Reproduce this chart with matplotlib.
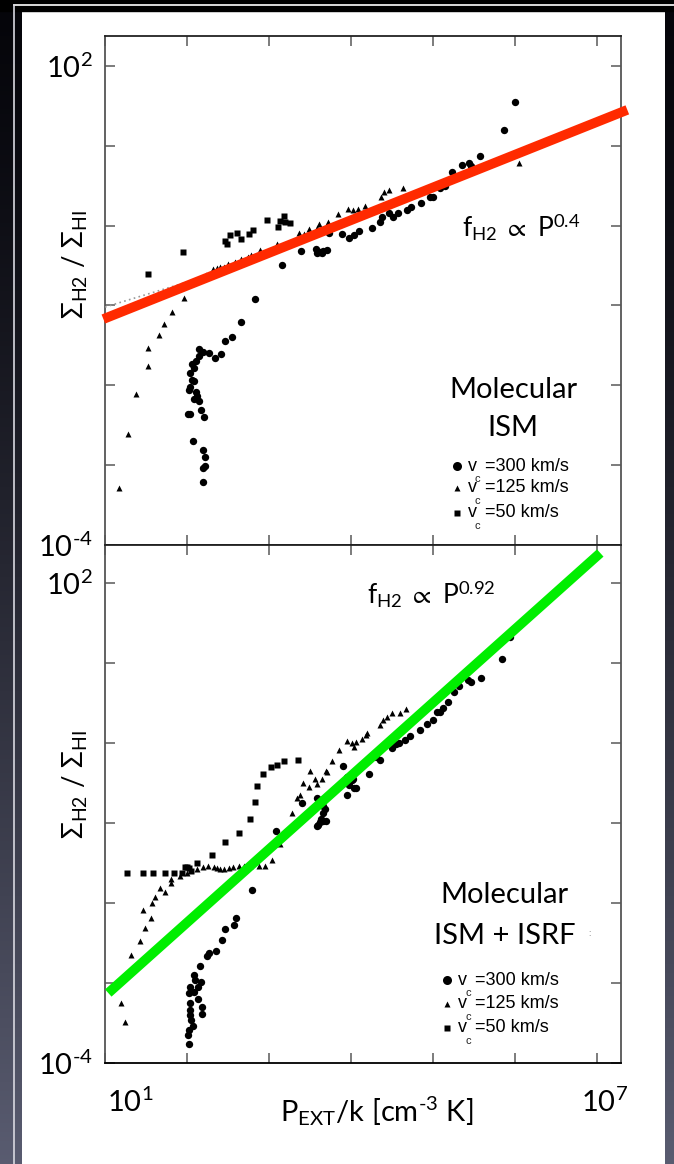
import numpy as np
import matplotlib
matplotlib.use("Agg")
import matplotlib.pyplot as plt
from matplotlib.ticker import NullLocator

plt.rcParams['font.family'] = ['Lato', 'DejaVu Sans']
plt.rcParams['mathtext.fontset'] = 'custom'
plt.rcParams['mathtext.rm'] = 'Lato'
plt.rcParams['mathtext.it'] = 'Lato:italic'
plt.rcParams['mathtext.bf'] = 'Lato:bold'
plt.rcParams['mathtext.sf'] = 'Lato'
plt.rcParams['mathtext.fallback'] = 'stixsans'

# ---- data (log10 P_ext/k , log10 Sigma_H2/Sigma_HI) ----
# top panel: molecular ISM only
top_vc300_logP = [2.20, 2.22, 2.20, 2.22, 2.20, 2.07, 2.21, 2.17, 2.01, 2.04, 2.15, 2.09, 2.12,
                  2.11, 2.02, 2.04, 2.09, 2.06, 2.04, 2.09, 2.06, 2.11, 2.15, 2.15, 2.20, 2.27,
                  2.34, 2.41, 2.46, 2.55, 2.66, 2.83, 3.16, 3.39, 3.57, 3.59, 3.62, 3.65, 3.66,
                  3.71, 3.73, 3.89, 3.98, 4.04, 4.10, 4.26, 4.35, 4.38, 4.46, 4.51, 4.57, 4.68,
                  4.73, 4.85, 4.96, 5.00, 5.09, 5.15, 5.23, 5.35, 5.44, 5.46, 5.57, 5.87, 6.00]
top_vc300_logR = [-3.21, -3.01, -3.03, -2.90, -2.81, -2.70, -2.40, -2.31, -2.36, -2.36, -2.20, -2.17, -2.14,
                  -2.09, -2.06, -2.02, -1.95, -1.93, -1.85, -1.78, -1.73, -1.70, -1.63, -1.55, -1.58, -1.60,
                  -1.66, -1.61, -1.45, -1.40, -1.21, -0.92, -0.49, -0.32, -0.29, -0.34, -0.33, -0.34, -0.32,
                  -0.31, -0.09, -0.11, -0.16, -0.12, -0.07, -0.03, 0.05, 0.11, 0.16, 0.11, 0.16, 0.20,
                  0.23, 0.28, 0.36, 0.36, 0.47, 0.50, 0.67, 0.76, 0.78, 0.75, 0.87, 1.20, 1.55]
top_vc125_logP = [1.17, 1.28, 1.38, 1.52, 1.52, 1.66, 1.72, 1.82, 1.96, 2.23, 2.32, 2.37, 2.40,
                  2.45, 2.50, 2.59, 2.66, 2.74, 2.78, 2.89, 3.10, 3.37, 3.43, 3.49, 3.59, 3.61,
                  3.72, 3.84, 3.96, 4.02, 4.09, 4.17, 4.37, 4.40, 4.46, 4.63, 6.05]
top_vc125_logR = [-3.28, -2.61, -2.11, -1.76, -1.53, -1.37, -1.23, -1.08, -0.91, -0.62, -0.54, -0.53, -0.52,
                  -0.52, -0.48, -0.46, -0.42, -0.39, -0.37, -0.31, -0.23, -0.09, -0.11, -0.04, -0.03, 0.02,
                  0.05, 0.15, 0.21, 0.20, 0.21, 0.25, 0.36, 0.42, 0.45, 0.47, 0.78]
top_vc50_logP = [1.52, 1.95, 2.46, 2.49, 2.52, 2.61, 2.66, 2.76, 2.80, 2.98, 3.11, 3.13, 3.18, 3.20, 3.26]
top_vc50_logR = [-0.61, -0.33, -0.19, -0.23, -0.12, -0.09, -0.17, -0.11, -0.06, 0.07, -0.02, 0.06, 0.12, 0.05, 0.03]

# bottom panel: molecular ISM + ISRF
bot_vc300_logP = [2.02, 2.01, 2.02, 2.07, 2.05, 2.04, 2.04, 2.04, 2.18, 2.18, 2.13, 2.02, 2.09,
                  2.04, 2.13, 2.10, 2.17, 2.09, 2.16, 2.24, 2.27, 2.35, 2.43, 2.46, 2.57, 2.60,
                  2.79, 3.09, 3.40, 3.59, 3.62, 3.66, 3.70, 3.60, 3.63, 3.66, 3.68, 3.66, 3.59,
                  3.90, 3.95, 3.98, 4.02, 4.04, 4.06, 3.95, 4.01, 4.22, 4.30, 4.35, 4.50, 4.55,
                  4.59, 4.66, 4.72, 4.84, 4.93, 5.00, 5.05, 5.09, 5.12, 5.18, 5.26, 5.32, 5.43,
                  5.46, 5.59, 5.84, 5.94]
bot_vc300_logR = [-3.76, -3.65, -3.59, -3.54, -3.46, -3.40, -3.34, -3.25, -3.39, -3.30, -3.20, -3.13, -3.11,
                  -3.05, -3.05, -2.96, -2.99, -2.90, -2.79, -2.66, -2.63, -2.60, -2.46, -2.33, -2.28, -2.19,
                  -1.84, -1.10, -0.75, -1.04, -0.99, -0.98, -0.98, -1.03, -0.95, -0.88, -0.83, -0.79, -0.69,
                  -0.29, -0.43, -0.53, -0.45, -0.56, -0.56, -0.65, -0.46, -0.39, -0.18, -0.21, -0.06, -0.01,
                  0.00, 0.04, 0.09, 0.16, 0.24, 0.29, 0.39, 0.39, 0.44, 0.51, 0.64, 0.71, 0.79,
                  0.76, 0.81, 1.05, 1.33]
bot_vc125_logP = [1.20, 1.24, 1.32, 1.43, 1.49, 1.46, 1.56, 1.57, 1.61, 1.67, 1.73, 1.80, 1.80,
                  1.91, 2.00, 2.12, 2.20, 2.26, 2.33, 2.37, 2.40, 2.45, 2.51, 2.56, 2.63, 2.70,
                  2.77, 2.88, 2.95, 3.04, 3.13, 3.28, 3.34, 3.38, 3.41, 3.49, 3.50, 3.56, 3.59,
                  3.65, 3.70, 3.71, 3.77, 3.85, 3.95, 4.01, 4.04, 4.06, 4.13, 4.18, 4.20, 4.35,
                  4.39, 4.44, 4.50, 4.60, 4.67]
bot_vc125_logR = [-3.25, -3.49, -2.65, -2.48, -2.31, -2.09, -2.19, -2.00, -1.93, -1.81, -1.86, -1.75, -1.70,
                  -1.66, -1.63, -1.58, -1.55, -1.54, -1.55, -1.56, -1.58, -1.58, -1.56, -1.55, -1.54, -1.54,
                  -1.54, -1.54, -1.54, -1.46, -1.26, -0.88, -0.69, -0.65, -0.50, -0.55, -0.35, -0.45, -0.51,
                  -0.45, -0.35, -0.36, -0.23, -0.09, 0.03, 0.00, -0.05, 0.01, 0.05, 0.10, 0.13, 0.23,
                  0.29, 0.33, 0.38, 0.38, 0.43]
bot_vc50_logP = [1.27, 1.46, 1.59, 1.73, 1.84, 1.94, 1.98, 2.00, 2.02, 2.05, 2.12, 2.30, 2.46,
                 2.63, 2.77, 2.83, 2.85, 2.93, 3.02, 3.10, 3.18, 3.35]
bot_vc50_logR = [-1.63, -1.63, -1.63, -1.63, -1.63, -1.63, -1.55, -1.55, -1.56, -1.60, -1.50, -1.40, -1.24,
                 -1.13, -0.95, -0.74, -0.54, -0.39, -0.30, -0.28, -0.23, -0.21]

# power-law fits (end points)
fit_top_logP = [0.98, 7.37]
fit_top_logR = [-1.17, 1.45]
fit_top_old_logP = [1.0, 2.6]
fit_top_old_logR = [-1.02, -0.52]
fit_bot_logP = [1.04, 7.04]
fit_bot_logR = [-3.125, 2.375]

legend_labels = ['=300 km/s', '=125 km/s', '=50 km/s']
ytick_labels = [r'$10^{\text{-}4}$', '', '', '', '', '', r'$10^{2}$']

# ---- figure & slide background ----
fig = plt.figure(figsize=(6.74, 11.64), dpi=100)
bg = fig.add_axes([0, 0, 1, 1], zorder=-10)
bg.set_xlim(0, 674)
bg.set_ylim(1164, 0)
bg.axis('off')
grad = np.linspace(0, 1, 256) ** 1.3
cols = np.zeros((256, 1, 3))
cols[:, 0, 0] = 0.02 + grad * 0.33
cols[:, 0, 1] = 0.02 + grad * 0.34
cols[:, 0, 2] = 0.04 + grad * 0.40
bg.imshow(cols, extent=(0, 22, 1164, 0), aspect='auto')
bg.imshow(cols, extent=(665, 674, 1164, 0), aspect='auto')
bg.fill_between([0, 674], 0, 11, color='black')
bg.plot([14, 674], [4.5, 4.5], color='white', lw=1.2)
bg.plot([14, 14], [4.5, 1164], color='#d8d8e0', lw=1.2)

ax1 = fig.add_axes([105 / 674, 1 - 545 / 1164, 516 / 674, 509 / 1164])
ax2 = fig.add_axes([105 / 674, 1 - 1063 / 1164, 516 / 674, 518 / 1164])


def P(a):
    return 10.0 ** np.asarray(a)


panels = [
    (ax1, top_vc300_logP, top_vc300_logR, top_vc125_logP, top_vc125_logR,
     top_vc50_logP, top_vc50_logR, 2.375),
    (ax2, bot_vc300_logP, bot_vc300_logR, bot_vc125_logP, bot_vc125_logR,
     bot_vc50_logP, bot_vc50_logR, 2.475),
]

for ax, x3, y3, x1, y1, x5, y5, ytop in panels:
    ax.set_xscale('log')
    ax.set_yscale('log')
    ax.set_xlim(10, 10 ** 7.293)
    ax.set_ylim(1e-4, 10 ** ytop)
    ax.plot(P(x3), P(y3), 'o', color='black', ms=5.3, mec='none')
    ax.plot(P(x1), P(y1), '^', color='black', ms=4.3, mec='none')
    ax.plot(P(x5), P(y5), 's', color='black', ms=3.8, mec='none')
    ax.set_xticks(10.0 ** np.arange(1, 8))
    ax.set_xticklabels([])
    ax.set_yticks(10.0 ** np.arange(-4, 3))
    ax.set_yticklabels(ytick_labels)
    ax.xaxis.set_minor_locator(NullLocator())
    ax.yaxis.set_minor_locator(NullLocator())
    ax.tick_params(which='major', direction='in', length=7.5, width=1.2, color='#666666',
                   top=True, right=True, labelsize=21, pad=9)
    for s in ax.spines.values():
        s.set_color('#555555')
        s.set_linewidth(1.3)
    ax.spines['bottom'].set_color('black')
    ax.spines['top'].set_color('#222222')
    ax.set_facecolor('white')

# fits
ax1.plot(P(fit_top_old_logP), P(fit_top_old_logR), ls=(0, (1, 2)), color='#999999', lw=1.2, zorder=3)
ax1.plot(P(fit_top_logP), P(fit_top_logR), color='#ff2a00', lw=7, solid_capstyle='butt',
         clip_on=False, zorder=4)
ax2.plot(P(fit_bot_logP), P(fit_bot_logR), color='#00ee00', lw=7, solid_capstyle='butt',
         clip_on=False, zorder=4)

# annotations
ax1.text(0.692, 0.625, r'$\mathrm{f}_{\mathrm{H2}}\ \propto\ \mathrm{P}^{0.4}$',
         transform=ax1.transAxes, fontsize=19, ha='left', va='center')
ax2.text(0.508, 0.907, r'$\mathrm{f}_{\mathrm{H2}}\ \propto\ \mathrm{P}^{0.92}$',
         transform=ax2.transAxes, fontsize=19, ha='left', va='center')

ax1.text(0.791, 0.3045, 'Molecular', transform=ax1.transAxes, fontsize=21, ha='center', va='center')
ax1.text(0.791, 0.230, 'ISM', transform=ax1.transAxes, fontsize=21, ha='center', va='center')
ax2.text(0.774, 0.324, 'Molecular', transform=ax2.transAxes, fontsize=21, ha='center', va='center')
ax2.text(0.774, 0.245, 'ISM + ISRF', transform=ax2.transAxes, fontsize=21, ha='center', va='center')
ax2.text(0.94, 0.25, ':', transform=ax2.transAxes, fontsize=7, color='#777777', ha='center', va='center')


def key(ax, x0, rows):
    h = ax.bbox.height
    w = ax.bbox.width
    for (y, mk, ms), lab in zip(rows, legend_labels):
        ax.plot([x0], [y], mk, color='black', ms=ms, mec='none', transform=ax.transAxes, clip_on=False)
        ax.text(x0 + 11 / w, y, 'v', transform=ax.transAxes, fontsize=13, ha='left', va='center',
                family='Liberation Sans')
        ax.text(x0 + 28 / w, y, lab, transform=ax.transAxes, fontsize=13, ha='left', va='center',
                family='Liberation Sans')
        ax.text(x0 + 18 / w, y - 13 / h, 'c', transform=ax.transAxes, fontsize=8, ha='left',
                va='center', family='Liberation Sans', color='#222222')


key(ax1, 0.682, [(0.155, 'o', 6.5), (0.112, '^', 5), (0.063, 's', 5)])
key(ax2, 0.663, [(0.160, 'o', 6.5), (0.114, '^', 5), (0.068, 's', 5)])

# axis labels
ylab = r'$\Sigma_{\mathrm{H2}}\ /\ \Sigma_{\mathrm{HI}}$'
fig.text(75 / 674, 1 - 265 / 1164, ylab, rotation=90, fontsize=20, ha='center', va='center')
fig.text(75 / 674, 1 - 785 / 1164, ylab, rotation=90, fontsize=20, ha='center', va='center')
fig.text(377 / 674, 1 - 1111 / 1164, r'$\mathrm{P}_{\mathrm{EXT}}\mathrm{/k\ [cm}^{\text{-}3}\mathrm{\ K]}$',
         fontsize=21, ha='center', va='center')
fig.text(107 / 674, 1 - 1102 / 1164, r'$10^{1}$', fontsize=21, ha='left', va='center')
fig.text(605 / 674, 1 - 1102 / 1164, r'$10^{7}$', fontsize=21, ha='center', va='center')

fig.savefig('out.png', dpi=100, facecolor='white')
